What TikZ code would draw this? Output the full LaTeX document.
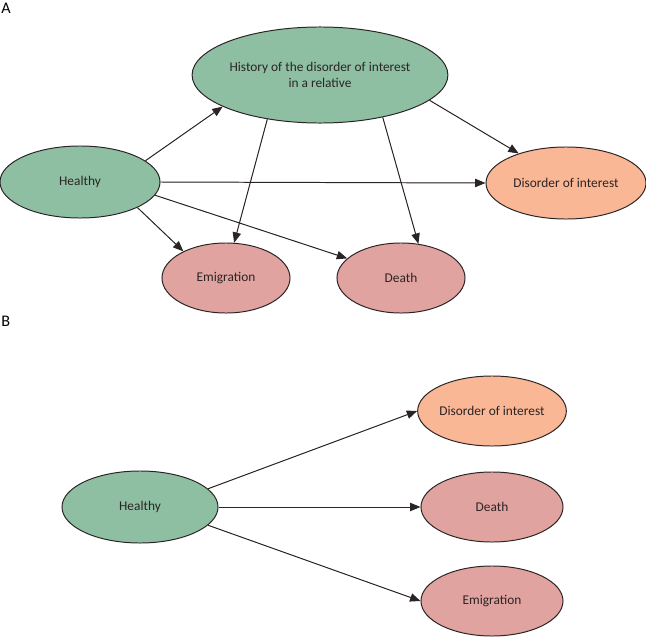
\documentclass[tikz,border=0pt]{standalone}
\usepackage{fontspec}
\setmainfont{Carlito}
\usepackage{tikz}
\usetikzlibrary{arrows.meta,shapes.geometric}

\definecolor{healthgreen}{HTML}{8FBFA3}
\definecolor{outcomeorange}{HTML}{FAB796}
\definecolor{outcomepink}{HTML}{E0A3A0}
\definecolor{inkdark}{HTML}{2B2424}

\begin{document}
\begin{tikzpicture}[
    x=0.025cm, y=-0.025cm,
    state/.style={ellipse, draw=inkdark, line width=0.7pt, inner sep=0pt, align=center, font=\fontsize{9.5}{11.5}\selectfont, text=inkdark},
    healthy/.style={state, fill=healthgreen},
    outcome/.style={state, fill=outcomepink, minimum width=3.2cm, minimum height=1.75cm},
    interest/.style={state, fill=outcomeorange, minimum width=4cm, minimum height=1.8cm},
    arr/.style={-{Triangle[length=2.6mm, width=2.1mm]}, line width=0.7pt, draw=inkdark, fill=inkdark},
    panel/.style={font=\fontsize{11.5}{13}\selectfont, anchor=north west, inner sep=0pt}
]
\useasboundingbox (0,0) rectangle (646,638);

% panel A
\node[panel] (labA) at (1,3) {A};
\node[healthy, minimum width=5.5cm, minimum height=2.4cm] (hist) at (320,75) {History of the disorder of interest\\in a relative};
\node[healthy, minimum width=4cm, minimum height=1.8cm] (hA) at (80,182) {Healthy};
\node[interest] (disA) at (566,183) {Disorder of interest};
\node[outcome] (emiA) at (226,278) {Emigration};
\node[outcome] (deaA) at (401,278) {Death};
\draw[arr] (hA.18) -- (hist.198);
\draw[arr] (hA.east) -- (disA.west);
\draw[arr] (hA.-24) -- (emiA.148);
\draw[arr] (hA.-10) -- (deaA.160);
\draw[arr] (hist.220) -- (emiA.77);
\draw[arr] (hist.-34) -- (deaA.63);
\draw[arr] (hist.-13) -- (disA.148);

% panel B
\node[panel] (labB) at (1,316) {B};
\node[healthy, minimum width=3.9cm, minimum height=1.8cm] (hB) at (140,507) {Healthy};
\node[interest, minimum width=3.55cm, minimum height=1.75cm] (disB) at (492,411) {Disorder of interest};
\node[outcome, minimum width=3.55cm] (deaB) at (492,507) {Death};
\node[outcome, minimum width=3.55cm] (emiB) at (492,601) {Emigration};
\draw[arr] (hB.15) -- (disB.west);
\draw[arr] (hB.east) -- (deaB.west);
\draw[arr] (hB.-15) -- (emiB.west);
\end{tikzpicture}
\end{document}
